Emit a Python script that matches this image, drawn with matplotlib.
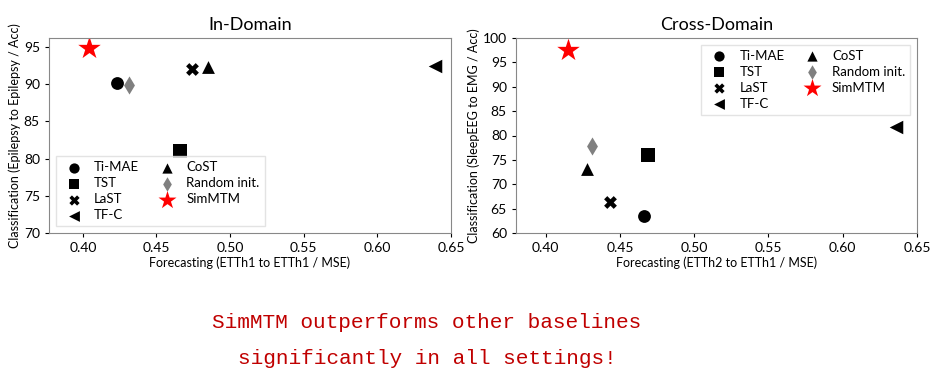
import numpy as np
import matplotlib.pyplot as plt

plt.rcParams['font.family'] = ['Lato', 'DejaVu Sans']

methods = ['Ti-MAE', 'TST', 'LaST', 'TF-C', 'CoST', 'Random init.', 'SimMTM']
markers = ['o', 's', 'X', '<', '^', 'd', '*']
colors = ['black', 'black', 'black', 'black', 'black', 'gray', 'red']
sizes = [85, 95, 85, 95, 85, 85, 290]

# In-Domain: ETTh1 -> ETTh1 MSE, Epilepsy -> Epilepsy Acc
in_mse = [0.423, 0.466, 0.474, 0.639, 0.485, 0.431, 0.404]
in_acc = [90.1, 81.0, 92.1, 92.4, 92.3, 89.9, 94.8]

# Cross-Domain: ETTh2 -> ETTh1 MSE, SleepEEG -> EMG Acc
cross_mse = [0.466, 0.469, 0.443, 0.636, 0.428, 0.431, 0.415]
cross_acc = [63.5, 76.0, 66.4, 81.8, 73.2, 77.8, 97.5]

fig = plt.figure(figsize=(9.42, 3.85), dpi=100)
ax1 = fig.add_axes([49/942, 1-233/385, 402/942, 195/385])
ax2 = fig.add_axes([516/942, 1-233/385, 401/942, 195/385])


def draw(ax, xs, ys, title, xlabel, ylabel, loc):
    for m, mk, c, s, x, y in zip(methods, markers, colors, sizes, xs, ys):
        ax.scatter(x, y, marker=mk, color=c, s=s, label=m, linewidths=0)
    ax.set_title(title, fontsize=13, pad=6)
    ax.set_xlabel(xlabel, fontsize=9, labelpad=2)
    ax.set_ylabel(ylabel, fontsize=9, labelpad=2)
    ax.tick_params(labelsize=10, length=3)
    for sp in ax.spines.values():
        sp.set_color('#888888')
    ax.legend(loc=loc, ncol=2, fontsize=9.5, frameon=True, edgecolor='#dddddd',
              handletextpad=0.5, columnspacing=1.1, labelspacing=0.3,
              markerscale=0.8, scatterpoints=1, fancybox=False)


draw(ax1, in_mse, in_acc, 'In-Domain', 'Forecasting (ETTh1 to ETTh1 / MSE)',
     'Classification (Epilepsy to Epilepsy / Acc)', 'lower left')
ax1.set_xlim(0.377, 0.65)
ax1.set_ylim(70, 96.2)
ax1.set_xticks(np.arange(0.40, 0.651, 0.05))
ax1.set_yticks(range(70, 96, 5))

draw(ax2, cross_mse, cross_acc, 'Cross-Domain', 'Forecasting (ETTh2 to ETTh1 / MSE)',
     'Classification (SleepEEG to EMG / Acc)', 'upper right')
ax2.set_xlim(0.38, 0.65)
ax2.set_ylim(60, 100)
ax2.set_xticks(np.arange(0.40, 0.651, 0.05))
ax2.set_yticks(range(60, 101, 5))

for a in (ax1, ax2):
    a.set_xticklabels(['%.2f' % t for t in a.get_xticks()])

fig.text(427/942, 1-323/385, 'SimMTM outperforms other baselines', ha='center', va='center',
         color='#c00000', fontsize=15.2, family='Liberation Mono')
fig.text(427/942, 1-358/385, 'significantly in all settings!', ha='center', va='center',
         color='#c00000', fontsize=15.2, family='Liberation Mono')

fig.savefig('out.png', dpi=100)
